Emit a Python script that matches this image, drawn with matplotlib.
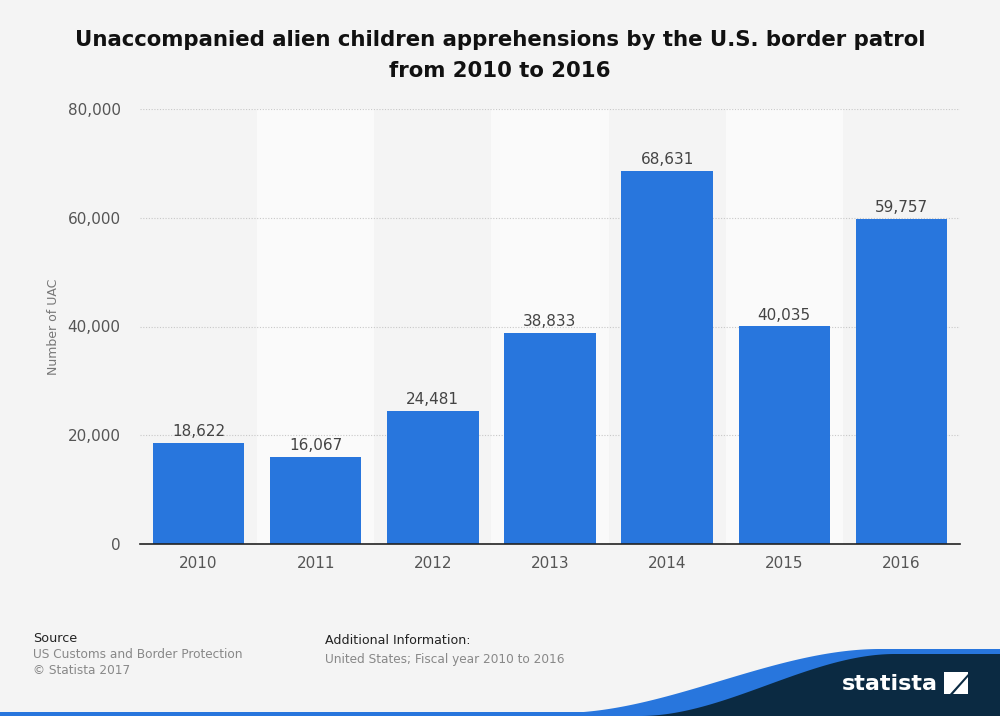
import matplotlib
matplotlib.use("Agg")
import matplotlib.pyplot as plt
import numpy as np
from matplotlib.patches import Polygon, Rectangle
from matplotlib.ticker import FuncFormatter

plt.rcParams["font.family"] = ["DejaVu Sans"]

years = ["2010", "2011", "2012", "2013", "2014", "2015", "2016"]
values = [18622, 16067, 24481, 38833, 68631, 40035, 59757]
yticks = [0, 20000, 40000, 60000, 80000]

BG = "#f4f4f4"
BAND = "#fafafa"
BAR = "#2876dd"
NAVY = "#0b2a42"

fig = plt.figure(figsize=(10, 7.16), dpi=100, facecolor=BG)
W, H = 1000, 716
ax = fig.add_axes([140 / W, 1 - 544 / H, 820 / W, 435 / H])
ax.set_facecolor(BG)

x = np.arange(len(years))
for i in x:
    if i % 2 == 1:
        ax.axvspan(i - 0.5, i + 0.5, color=BAND, zorder=0, lw=0)

ax.bar(x, values, width=0.78, color=BAR, zorder=3)
for xi, v in zip(x, values):
    ax.text(xi, v + 700, f"{v:,}", ha="center", va="bottom", fontsize=11, color="#444444", zorder=4)

ax.set_xlim(-0.5, len(years) - 0.5)
ax.set_ylim(0, 80000)
ax.set_yticks(yticks)
ax.yaxis.set_major_formatter(FuncFormatter(lambda v, p: f"{int(v):,}"))
ax.set_xticks(x)
ax.set_xticklabels(years)
ax.grid(axis="y", color="#c8c8c8", linestyle=(0, (1, 1.5)), lw=0.8, zorder=1)
ax.tick_params(axis="both", length=0, labelsize=11, labelcolor="#555555")
ax.tick_params(axis="y", pad=14)
ax.tick_params(axis="x", pad=9)
for s in ["top", "right", "left"]:
    ax.spines[s].set_visible(False)
ax.spines["bottom"].set_color("#222222")
ax.spines["bottom"].set_linewidth(1.2)
ax.spines["bottom"].set_zorder(5)
ax.set_ylabel("Number of UAC", fontsize=9, color="#777777")
ax.yaxis.set_label_coords(-0.097, 0.5)

fig.text(0.5, 1 - 40 / H, "Unaccompanied alien children apprehensions by the U.S. border patrol",
         ha="center", va="center", fontsize=15.3, fontweight="bold", color="#111111")
fig.text(0.5, 1 - 71 / H, "from 2010 to 2016",
         ha="center", va="center", fontsize=15.3, fontweight="bold", color="#111111")

fig.text(33 / W, 1 - 638 / H, "Source", fontsize=9.2, color="#222222", va="center")
fig.text(33 / W, 1 - 655 / H, "US Customs and Border Protection", fontsize=8.7, color="#888888", va="center")
fig.text(33 / W, 1 - 671 / H, "\u00a9 Statista 2017", fontsize=8.7, color="#888888", va="center")
fig.text(325 / W, 1 - 640 / H, "Additional Information:", fontsize=9.1, color="#222222", va="center")
fig.text(325 / W, 1 - 659 / H, "United States; Fiscal year 2010 to 2016", fontsize=8.7, color="#888888", va="center")

# footer wave
lax = fig.add_axes([0, 0, 1, 1], facecolor="none")
lax.set_xlim(0, W)
lax.set_ylim(H, 0)
lax.axis("off")
t = np.linspace(0, 1, 100)
def curve(x0, x1, y0, y1):
    xs = x0 + (x1 - x0) * t
    ys = y0 + (y1 - y0) * (3 * t**2 - 2 * t**3)
    return xs, ys
bx, by = curve(560, 880, 713, 649)
blue_pts = list(zip(bx, by)) + [(1000, 649), (1000, 716), (560, 716)]
lax.add_patch(Polygon(blue_pts, closed=True, color=BAR, lw=0, zorder=1))
nx, ny = curve(640, 895, 716, 654)
navy_pts = list(zip(nx, ny)) + [(1000, 654), (1000, 716), (640, 716)]
lax.add_patch(Polygon(navy_pts, closed=True, color=NAVY, lw=0, zorder=2))
lax.add_patch(Rectangle((0, 712), 1000, 4, color=BAR, lw=0, zorder=0))
lax.text(890, 684, "statista", fontsize=16, fontweight="bold", color="white",
         ha="center", va="center", zorder=3, family="DejaVu Sans")
# logo square
lax.add_patch(Polygon([(944, 672), (968, 672), (968, 674), (950, 694), (944, 694)], closed=True,
                      color="white", lw=0, zorder=3))
lax.add_patch(Polygon([(953, 694), (968, 677), (968, 694)], closed=True, color="white", lw=0, zorder=3))

fig.savefig("out.png", dpi=100, facecolor=BG)
